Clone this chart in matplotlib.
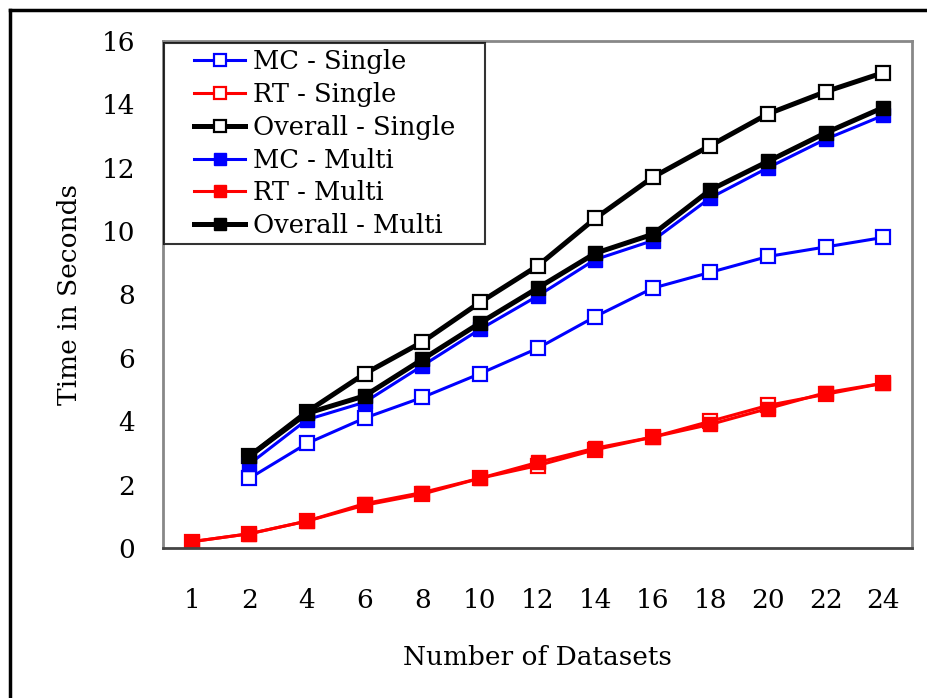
import numpy as np
import matplotlib.pyplot as plt
from matplotlib.lines import Line2D
from matplotlib.legend_handler import HandlerLine2D

plt.rcParams['font.family'] = ['DejaVu Serif']

datasets = ["1", "2", "4", "6", "8", "10", "12", "14", "16", "18", "20", "22", "24"]
nan = np.nan

mc_single = [nan, 2.2, 3.3, 4.1, 4.75, 5.5, 6.3, 7.3, 8.2, 8.7, 9.2, 9.5, 9.8]
rt_single = [0.2, 0.45, 0.85, 1.35, 1.7, 2.2, 2.6, 3.1, 3.5, 4.0, 4.5, 4.85, 5.2]
overall_single = [nan, 2.9, 4.3, 5.5, 6.5, 7.75, 8.9, 10.4, 11.7, 12.7, 13.7, 14.4, 15.0]
mc_multi = [nan, 2.65, 4.05, 4.6, 5.75, 6.9, 7.95, 9.1, 9.7, 11.05, 12.0, 12.9, 13.65]
rt_multi = [0.2, 0.45, 0.85, 1.4, 1.75, 2.2, 2.7, 3.15, 3.5, 3.9, 4.4, 4.9, 5.2]
overall_multi = [nan, 2.9, 4.25, 4.8, 5.95, 7.1, 8.2, 9.3, 9.9, 11.3, 12.2, 13.1, 13.9]

fig = plt.figure(figsize=(9.27, 6.98), dpi=100)
ax = fig.add_axes([163 / 927, 1 - 548 / 698, (912 - 163) / 927, (548 - 41) / 698])

x = np.arange(len(datasets))
ms = 10
ax.plot(x, mc_single, color='blue', lw=2.2, marker='s', ms=ms, mfc='white', mec='blue', mew=1.6, label='MC - Single')
ax.plot(x, rt_single, color='red', lw=2.2, marker='s', ms=ms, mfc='white', mec='red', mew=1.6, label='RT - Single')
ax.plot(x, overall_single, color='black', lw=3.6, marker='s', ms=ms, mfc='white', mec='black', mew=1.6, label='Overall - Single')
ax.plot(x, mc_multi, color='blue', lw=2.2, marker='s', ms=ms, mfc='blue', mec='blue', label='MC - Multi')
ax.plot(x, rt_multi, color='red', lw=2.2, marker='s', ms=ms, mfc='red', mec='red', label='RT - Multi')
ax.plot(x, overall_multi, color='black', lw=3.6, marker='s', ms=ms, mfc='black', mec='black', label='Overall - Multi')

ax.set_xlim(-0.5, len(datasets) - 0.5)
ax.set_ylim(0, 16)
ax.set_yticks(range(0, 17, 2))
ax.set_xticks(x)
ax.set_xticklabels(datasets)
ax.tick_params(axis='both', length=0, labelsize=19)
ax.tick_params(axis='y', pad=20)
ax.tick_params(axis='x', pad=29)
for s in ax.spines.values():
    s.set_color('#888888')
    s.set_linewidth(2)
ax.spines['bottom'].set_color('#444444')

ax.set_xlabel('Number of Datasets', fontsize=19, labelpad=23)
ax.set_ylabel('Time in Seconds', fontsize=19, labelpad=14)

leg = ax.legend(loc='upper left', bbox_to_anchor=(0.002, 0.5, 0.428, 0.496), mode='expand',
                fontsize=18.5, markerscale=0.8, frameon=True, fancybox=False, edgecolor='black',
                borderpad=0.25, labelspacing=0.3, handlelength=2.9, handletextpad=0.28,
                borderaxespad=0, handler_map={Line2D: HandlerLine2D(xpad=0.9)})
leg.get_frame().set_linewidth(1.5)

# outer border of the figure
fig.add_artist(Line2D([10 / 927, 10 / 927], [0, 1 - 10 / 698], color='black', lw=2.5, transform=fig.transFigure))
fig.add_artist(Line2D([10 / 927, 1], [1 - 10 / 698, 1 - 10 / 698], color='black', lw=2.5, transform=fig.transFigure))

fig.savefig('out.png', dpi=100)
